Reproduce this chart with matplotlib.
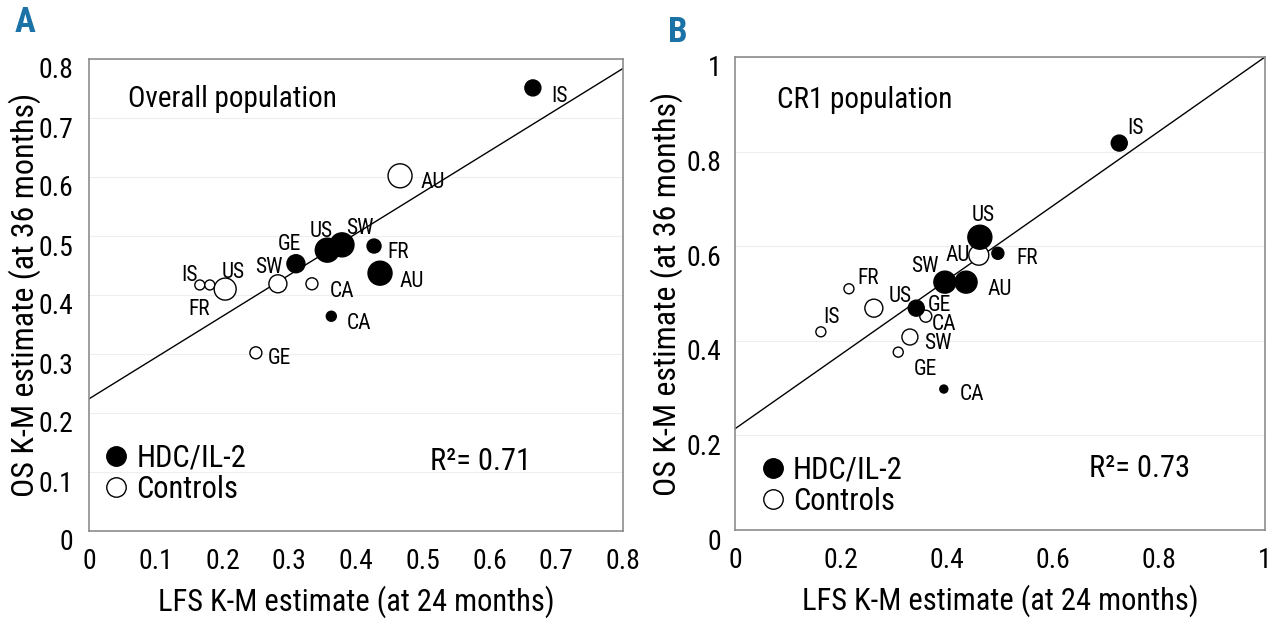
import matplotlib
matplotlib.use("Agg")
import matplotlib.pyplot as plt
from matplotlib import font_manager as fm
from matplotlib.lines import Line2D
from matplotlib.transforms import ScaledTranslation

_available = {f.name for f in fm.fontManager.ttflist}
_prefs = ['Liberation Sans Narrow', 'Arial Narrow', 'Roboto Condensed',
          'Archivo Narrow', 'PT Sans Narrow', 'Fira Sans Condensed',
          'IBM Plex Sans Condensed', 'Encode Sans Condensed', 'Open Sans Condensed',
          'Barlow Semi Condensed', 'Liberation Sans']
FONT = next((p for p in _prefs if p in _available), 'DejaVu Sans')
plt.rcParams['font.family'] = [FONT, 'DejaVu Sans']

# ---------------- data: panel A (overall population) ----------------
a_countries_hdc = ["GE", "US", "SW", "FR", "AU", "CA", "IS"]
a_lfs_hdc = [0.310, 0.357, 0.379, 0.427, 0.436, 0.363, 0.665]
a_os_hdc = [0.453, 0.476, 0.485, 0.483, 0.437, 0.364, 0.751]
a_size_hdc = [18, 24, 24, 14, 24, 10, 16]

a_countries_ctl = ["IS", "FR", "US", "SW", "CA", "GE", "AU"]
a_lfs_ctl = [0.166, 0.181, 0.204, 0.283, 0.334, 0.250, 0.466]
a_os_ctl = [0.417, 0.417, 0.410, 0.419, 0.419, 0.302, 0.602]
a_size_ctl = [10, 10, 22, 18, 12, 12, 24]

a_fit = (0.224, 0.70)   # intercept, slope
a_r2 = "0.71"

# ---------------- data: panel B (CR1 population) ----------------
b_countries_hdc = ["US", "FR", "SW", "AU", "GE", "CA", "IS"]
b_lfs_hdc = [0.462, 0.496, 0.396, 0.436, 0.342, 0.394, 0.725]
b_os_hdc = [0.619, 0.585, 0.524, 0.524, 0.469, 0.298, 0.818]
b_size_hdc = [24, 12, 22, 22, 16, 8, 16]

b_countries_ctl = ["AU", "CA", "SW", "GE", "US", "FR", "IS"]
b_lfs_ctl = [0.460, 0.360, 0.330, 0.308, 0.262, 0.215, 0.162]
b_os_ctl = [0.581, 0.452, 0.408, 0.376, 0.469, 0.510, 0.419]
b_size_ctl = [20, 12, 16, 10, 18, 10, 10]

b_fit = (0.214, 0.786)
b_r2 = "0.73"

# label offsets (pixels) -- layout only
a_off_hdc = [(-6, 19), (-6, 19), (18, 16), (24, -6), (32, -8), (28, -7), (27, -9)]
a_off_ctl = [(-10, 9), (-11, -25), (8, 17), (-9, 16), (30, -8), (24, -6), (33, -7)]
b_off_hdc = [(3, 22), (29, -5), (-20, 16), (34, -7), (23, 3), (28, -5), (16, 15)]
b_off_ctl = [(-21, 0), (18, -8), (28, -6), (27, -17), (26, 12), (19, 10), (11, 14)]

fig = plt.figure(figsize=(12.8, 6.33), dpi=100)
axA = fig.add_axes([89/1280, 1-531/633, 534/1280, 472/633])
axB = fig.add_axes([735/1280, 1-530/633, 530/1280, 473/633])

LBL = 15.5


def panel(ax, xmax, ymax, xticks, yticks, xtl, ytl,
          c_h, x_h, y_h, s_h, o_h, c_c, x_c, y_c, s_c, o_c, fit, r2, title,
          title_xy, leg_xy, r2_xy, ypad):
    ax.set_xlim(0, xmax)
    ax.set_ylim(0, ymax)
    ax.set_xticks(xticks)
    ax.set_xticklabels(xtl)
    ax.set_yticks(yticks)
    ax.set_yticklabels(ytl)
    ax.tick_params(length=0, labelsize=20, pad=12)
    ax.tick_params(axis='y', pad=ypad)
    ax.yaxis.grid(True, color='#eeeeee', lw=0.8)
    ax.set_axisbelow(True)
    for sp in ax.spines.values():
        sp.set_color('#8c8c8c')
        sp.set_linewidth(1.2)
    xs = [0, xmax]
    ax.plot(xs, [fit[0] + fit[1] * v for v in xs], color='black', lw=1.0,
            zorder=2, clip_on=True)
    ax.scatter(x_c, y_c, s=[(d * 0.72) ** 2 for d in s_c], facecolors='white',
               edgecolors='black', linewidths=1.0, zorder=3)
    ax.scatter(x_h, y_h, s=[(d * 0.72) ** 2 for d in s_h], facecolors='black',
               edgecolors='black', linewidths=1.0, zorder=4)
    for c, x, y, o in zip(c_h, x_h, y_h, o_h):
        ax.annotate(c, (x, y), xytext=o, textcoords='offset pixels',
                    ha='center', va='center', fontsize=LBL, zorder=5)
    for c, x, y, o in zip(c_c, x_c, y_c, o_c):
        ax.annotate(c, (x, y), xytext=o, textcoords='offset pixels',
                    ha='center', va='center', fontsize=LBL, zorder=5)
    ax.text(title_xy[0], title_xy[1], title, transform=ax.transAxes,
            fontsize=21, ha='left', va='center')
    handles = [Line2D([], [], marker='o', ls='none', markersize=14,
                      markerfacecolor='black', markeredgecolor='black'),
               Line2D([], [], marker='o', ls='none', markersize=14,
                      markerfacecolor='white', markeredgecolor='black')]
    ax.legend(handles, ['HDC/IL-2', 'Controls'], loc='upper left',
              bbox_to_anchor=leg_xy, frameon=False, fontsize=22,
              handletextpad=0.1, labelspacing=0.08, borderpad=0,
              handlelength=1.1, borderaxespad=0)
    ax.text(r2_xy[0], r2_xy[1], "R\u00b2= " + r2, transform=ax.transAxes,
            fontsize=22, ha='left', va='center')
    ax.set_xlabel("LFS K-M estimate (at 24 months)", fontsize=22, labelpad=8)
    for lab in ax.get_yticklabels():
        lab.set_transform(lab.get_transform() +
                          ScaledTranslation(0, -9/100, fig.dpi_scale_trans))


panel(axA, 0.8, 0.8, [i/10 for i in range(9)], [i/10 for i in range(9)],
      ["0", "0.1", "0.2", "0.3", "0.4", "0.5", "0.6", "0.7", "0.8"],
      ["0", "0.1", "0.2", "0.3", "0.4", "0.5", "0.6", "0.7", "0.8"],
      a_countries_hdc, a_lfs_hdc, a_os_hdc, a_size_hdc, a_off_hdc,
      a_countries_ctl, a_lfs_ctl, a_os_ctl, a_size_ctl, a_off_ctl,
      a_fit, a_r2, "Overall population", (0.073, 0.915),
      (0.02, 0.186), (0.638, 0.148), 11)
axA.set_ylabel("OS K-M estimate (at 36 months)", fontsize=23)
axA.yaxis.set_label_coords(-0.09, 0.5)

panel(axB, 1.0, 1.0, [0, 0.2, 0.4, 0.6, 0.8, 1.0], [0, 0.2, 0.4, 0.6, 0.8, 1.0],
      ["0", "0.2", "0.4", "0.6", "0.8", "1"],
      ["0", "0.2", "0.4", "0.6", "0.8", "1"],
      b_countries_hdc, b_lfs_hdc, b_os_hdc, b_size_hdc, b_off_hdc,
      b_countries_ctl, b_lfs_ctl, b_os_ctl, b_size_ctl, b_off_ctl,
      b_fit, b_r2, "CR1 population", (0.079, 0.909),
      (0.04, 0.158), (0.668, 0.13), 10)
axB.set_ylabel("OS K-M estimate (at 36 months)", fontsize=23)
axB.yaxis.set_label_coords(-0.098, 0.5)

fig.text(15/1280, 1-22/633, "A", fontsize=25, fontweight='bold',
         color='#1a72a6', ha='left', va='center')
fig.text(668/1280, 1-32/633, "B", fontsize=25, fontweight='bold',
         color='#1a72a6', ha='left', va='center')

fig.savefig("out.png", dpi=100)
